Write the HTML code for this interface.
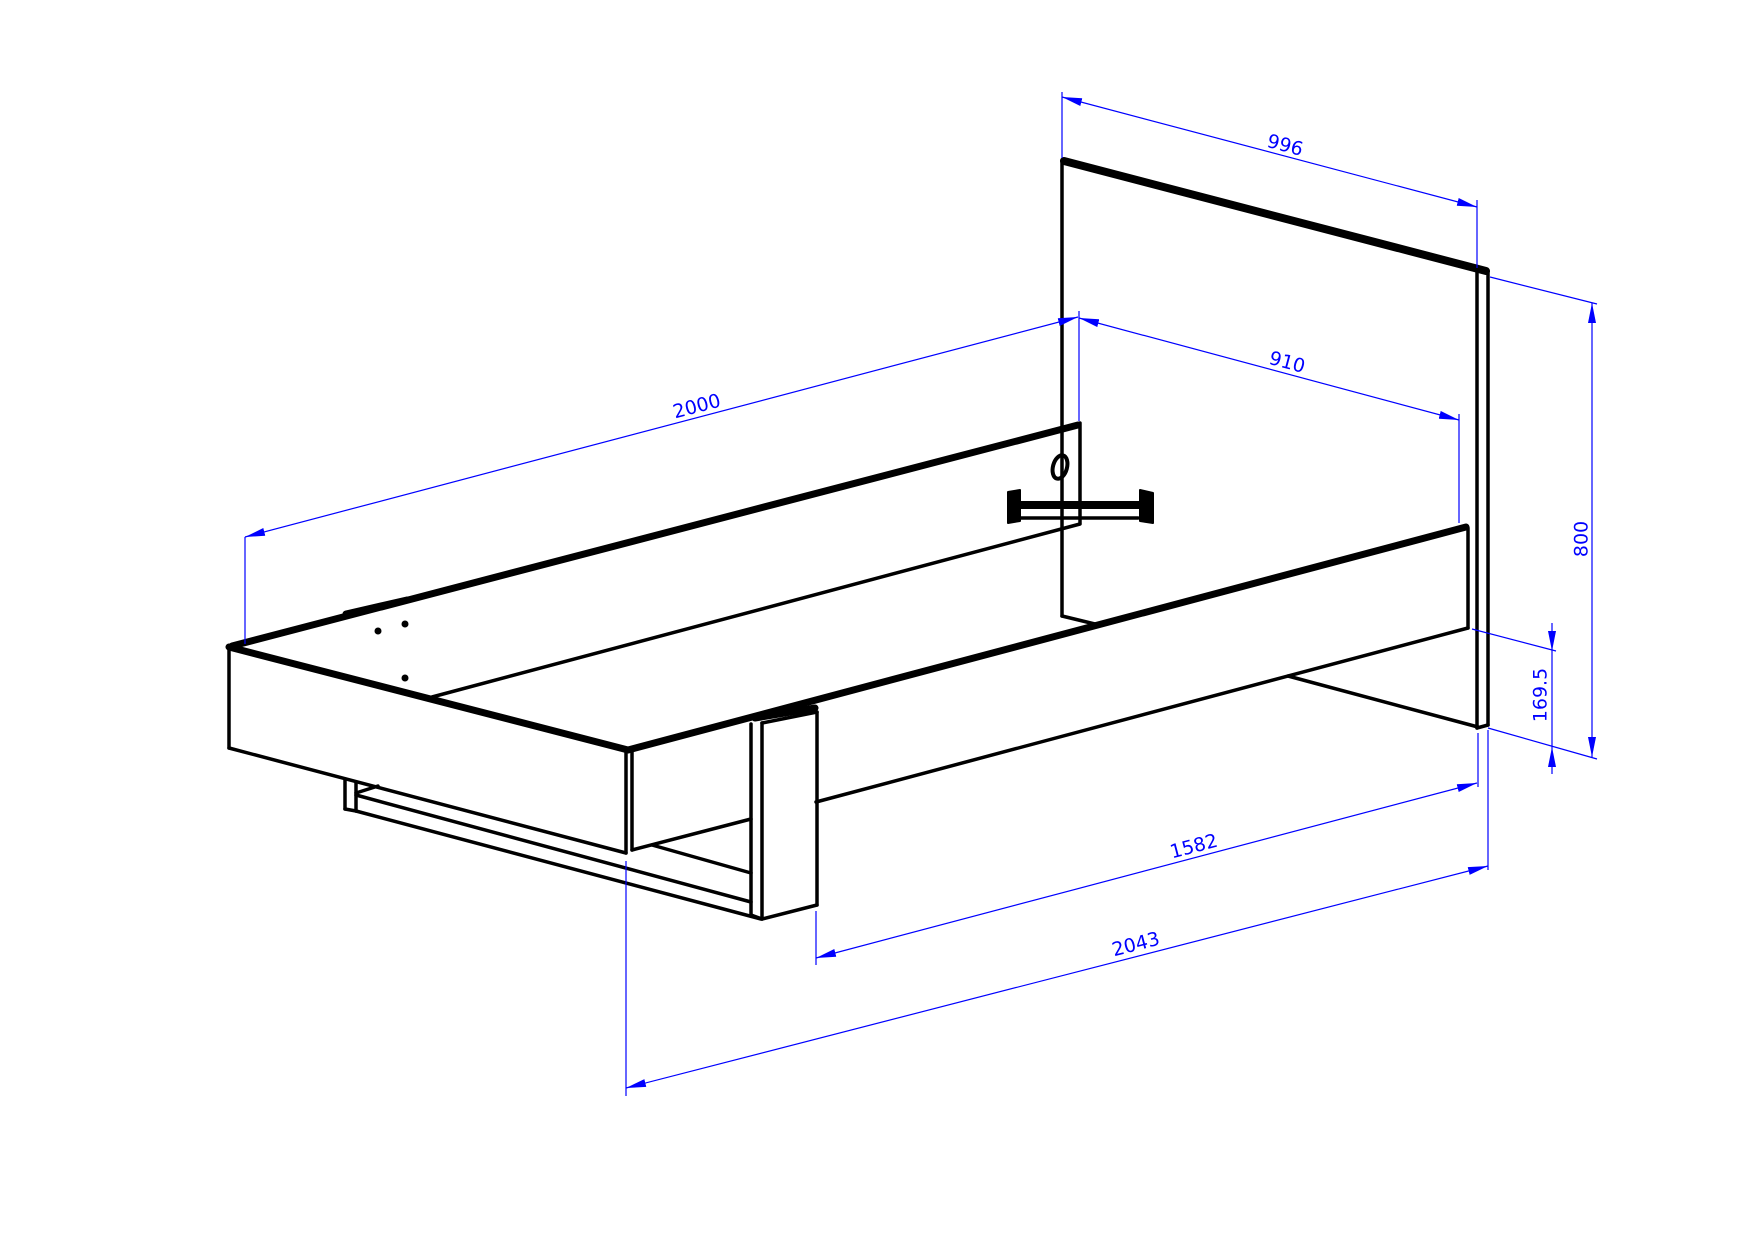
<!DOCTYPE html>
<html><head><meta charset="utf-8"><style>
html,body{margin:0;padding:0;background:#fff}
svg{display:block}
text{font-family:"DejaVu Sans","Liberation Sans",sans-serif;font-size:19px;fill:#0000ff}
</style></head><body>
<svg width="1754" height="1240" viewBox="0 0 1754 1240" xmlns="http://www.w3.org/2000/svg">
<defs>
<marker id="a" viewBox="0 0 20 8" refX="20" refY="4" markerWidth="20" markerHeight="8" markerUnits="userSpaceOnUse" orient="auto-start-reverse">
<path d="M0,0 L20,4 L0,8 z" fill="#0000ff"/></marker>
</defs>
<rect width="1754" height="1240" fill="#fff"/>
<g stroke="#000" stroke-width="3.5" fill="none" stroke-linejoin="round" stroke-linecap="round">
<!-- headboard -->
<line x1="1062" y1="160" x2="1062" y2="616"/>
<line x1="1062" y1="616" x2="1099" y2="625"/>
<line x1="1288" y1="676" x2="1478" y2="727"/>
<line x1="1477" y1="270" x2="1477" y2="728"/>
<line x1="1488" y1="272" x2="1488" y2="725"/>
<line x1="1477" y1="728" x2="1488" y2="725"/>
<line x1="1064" y1="161" x2="1486" y2="271" stroke-width="8"/>
<!-- far rail -->
<line x1="232" y1="646" x2="1078" y2="425" stroke-width="7"/>
<line x1="1080" y1="423" x2="1080" y2="523"/>
<line x1="432" y1="697" x2="1080" y2="524"/>
<line x1="346" y1="614" x2="407" y2="600" stroke-width="7"/>
<!-- front panel -->
<line x1="229" y1="647" x2="628" y2="750" stroke-width="7"/>
<line x1="229" y1="648" x2="229" y2="748"/>
<line x1="229" y1="748" x2="626" y2="853"/>
<line x1="626" y1="752" x2="626" y2="853"/>
<line x1="632" y1="752" x2="632" y2="850"/>
<!-- near rail -->
<line x1="628" y1="750" x2="1466" y2="527" stroke-width="7"/>
<line x1="1468" y1="528" x2="1468" y2="628"/>
<line x1="816" y1="802" x2="1468" y2="628"/>
<line x1="632" y1="850" x2="751" y2="819"/>
<!-- leg -->
<line x1="751" y1="724" x2="751" y2="915"/>
<line x1="762" y1="723" x2="762" y2="919"/>
<line x1="817" y1="712" x2="817" y2="905"/>
<line x1="762" y1="723" x2="817" y2="712"/>
<line x1="755" y1="718" x2="815" y2="708" stroke-width="7"/>
<line x1="751" y1="915" x2="762" y2="919"/>
<line x1="762" y1="919" x2="817" y2="905"/>
<!-- under frame -->
<line x1="345" y1="779" x2="345" y2="809"/>
<line x1="356" y1="782" x2="356" y2="811"/>
<line x1="345" y1="809" x2="356" y2="811"/>
<line x1="356" y1="795" x2="751" y2="902"/>
<line x1="356" y1="811" x2="761" y2="919"/>
<line x1="356" y1="793" x2="378" y2="786"/>
<line x1="652" y1="845" x2="751" y2="873"/>
<!-- bracket -->
<line x1="1013" y1="505" x2="1147" y2="505" stroke-width="8"/>
<line x1="1021" y1="518" x2="1138" y2="518"/>
<path d="M1008,492 L1020,490 L1020,521 L1008,523 z" fill="#000" stroke-width="2"/>
<path d="M1140,490 L1153,493 L1153,523 L1140,521 z" fill="#000" stroke-width="2"/>
</g>
<ellipse cx="1060" cy="467" rx="7" ry="12" transform="rotate(15 1060 467)" fill="none" stroke="#000" stroke-width="4"/>
<circle cx="378" cy="631" r="3.5" fill="#000"/>
<circle cx="405" cy="624" r="3.5" fill="#000"/>
<circle cx="405" cy="678" r="3.5" fill="#000"/>
<!-- dimensions -->
<g stroke="#0000ff" stroke-width="1.2" fill="none">
<line x1="1062" y1="92" x2="1062" y2="158"/>
<line x1="1477" y1="200" x2="1477" y2="268"/>
<line x1="1062" y1="97" x2="1477" y2="207" marker-start="url(#a)" marker-end="url(#a)"/>
<line x1="1079" y1="311" x2="1079" y2="421"/>
<line x1="1459" y1="414" x2="1459" y2="523"/>
<line x1="1079" y1="318" x2="1459" y2="420" marker-start="url(#a)" marker-end="url(#a)"/>
<line x1="245" y1="537" x2="245" y2="644"/>
<line x1="245" y1="537" x2="1078" y2="317" marker-start="url(#a)" marker-end="url(#a)"/>
<line x1="1490" y1="277" x2="1597" y2="304"/>
<line x1="1488" y1="728" x2="1597" y2="759"/>
<line x1="1592" y1="303" x2="1592" y2="757" marker-start="url(#a)" marker-end="url(#a)"/>
<line x1="1472" y1="629" x2="1556" y2="651"/>
<line x1="1552" y1="623" x2="1552" y2="651" marker-end="url(#a)"/>
<line x1="1552" y1="651" x2="1552" y2="747"/>
<line x1="1552" y1="774" x2="1552" y2="747" marker-end="url(#a)"/>
<line x1="626" y1="861" x2="626" y2="1096"/>
<line x1="1488" y1="730" x2="1488" y2="870"/>
<line x1="626" y1="1088" x2="1488" y2="866" marker-start="url(#a)" marker-end="url(#a)"/>
<line x1="816" y1="911" x2="816" y2="965"/>
<line x1="1478" y1="733" x2="1478" y2="787"/>
<line x1="816" y1="958" x2="1477" y2="783" marker-start="url(#a)" marker-end="url(#a)"/>
</g>
<text x="1285" y="146" text-anchor="middle" dominant-baseline="middle" transform="rotate(14.8 1285 146)">996</text>
<text x="1287" y="363" text-anchor="middle" dominant-baseline="middle" transform="rotate(15 1287 363)">910</text>
<text x="697" y="407" text-anchor="middle" dominant-baseline="middle" transform="rotate(-14.8 697 407)">2000</text>
<text x="1582" y="539" text-anchor="middle" dominant-baseline="middle" transform="rotate(-90 1582 539)">800</text>
<text x="1541" y="695" text-anchor="middle" dominant-baseline="middle" transform="rotate(-90 1541 695)">169.5</text>
<text x="1194" y="847" text-anchor="middle" dominant-baseline="middle" transform="rotate(-14.8 1194 847)">1582</text>
<text x="1136" y="945" text-anchor="middle" dominant-baseline="middle" transform="rotate(-14.5 1136 945)">2043</text>
</svg>
</body></html>
